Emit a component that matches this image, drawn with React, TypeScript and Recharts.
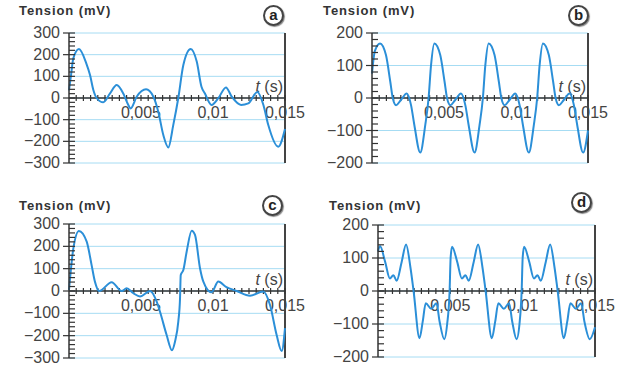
import { LineChart, Line, XAxis, YAxis, ReferenceLine } from "recharts";

// time in ms, tension in mV
const timeA = [0, 0.15, 0.3, 0.69, 1.2, 1.46, 1.69, 1.92, 2.38, 2.85, 3.31, 3.77, 4.12, 4.28, 4.7, 5.35, 5.86, 6.2, 6.55, 6.9, 7.24, 7.59, 7.94, 8.45, 8.87, 9.2, 9.44, 9.9, 10.37, 10.9, 11.3, 11.95, 12.45, 13.08, 13.5, 13.84, 14.53, 15];
const tensionA = [35, 110, 183, 226, 160, 106, 37, 0, -20, 21, 60, 21, -32, -48, 6, 40, 6, -63, -171, -228, -125, 0, 152, 226, 168, 52, 21, -32, -1, 49, 6, -32, -25, 28, -32, -125, -225, -143];

const timeB = [0, 0.2, 0.56, 0.97, 1.27, 1.44, 1.67, 2.01, 2.41, 2.71, 2.94, 3.35, 3.7, 3.93, 4.1, 4.33, 4.74, 5.04, 5.21, 5.44, 5.78, 6.18, 6.48, 6.71, 7.12, 7.47, 7.7, 7.87, 8.1, 8.51, 8.81, 8.98, 9.21, 9.55, 9.95, 10.25, 10.48, 10.89, 11.24, 11.47, 11.64, 11.87, 12.28, 12.58, 12.75, 12.98, 13.32, 13.72, 14.02, 14.25, 14.66, 15];
const tensionB = [75, 145, 168, 132, 50, 0, -22, -6, 14, -22, -83, -168, -83, 0, 101, 168, 132, 50, 0, -22, -6, 14, -22, -83, -168, -83, 0, 101, 168, 132, 50, 0, -22, -6, 14, -22, -83, -168, -83, 0, 101, 168, 132, 50, 0, -22, -6, 14, -22, -83, -168, -100];

const timeC = [0, 0.3, 0.69, 1.23, 1.57, 1.8, 2.1, 2.96, 3.66, 4.0, 4.47, 4.93, 5.63, 6.09, 6.32, 6.78, 7.15, 7.36, 7.59, 7.71, 7.76, 7.94, 8.17, 8.52, 8.75, 9.1, 9.33, 9.9, 10.37, 10.9, 11.65, 12.57, 13.49, 13.96, 14.42, 14.77, 15];
const tensionC = [5, 190, 269, 221, 116, 42, 0, 39, 0, 12, -10, -25, 0, -48, -93, -197, -265, -227, -137, -33, 72, 94, 176, 270, 251, 101, 42, -6, 42, 19, 0, -21, -2, -63, -197, -269, -166];

const timeD = [0, 0.14, 0.49, 0.82, 1.06, 1.29, 1.64, 1.94, 2.24, 2.46, 2.87, 3.09, 3.3, 3.68, 4.04, 4.26, 4.58, 4.78, 4.95, 5.02, 5.12, 5.47, 5.8, 6.04, 6.27, 6.62, 6.92, 7.22, 7.44, 7.87, 8.1, 8.32, 8.7, 9.06, 9.28, 9.58, 9.78, 9.93, 10.0, 10.1, 10.45, 10.78, 11.02, 11.25, 11.6, 11.9, 12.2, 12.42, 12.85, 13.08, 13.3, 13.68, 14.04, 14.27, 14.64, 15];
const tensionD = [120, 136, 89, 38, 48, 31, 89, 141, 72, 0, -143, -93, -37, -54, -37, -93, -146, -100, 0, 100, 134, 89, 38, 48, 31, 89, 141, 72, 0, -143, -93, -37, -54, -37, -93, -146, -100, 0, 100, 134, 89, 38, 48, 31, 89, 141, 72, 0, -143, -93, -37, -54, -37, -93, -146, -110];

const majorsA = [-300, -200, -100, 0, 100, 200, 300];
const majorsB = [-200, -100, 0, 100, 200];
const timeLabels = [0.005, 0.01, 0.015];

const CURVE = "#2b8fd8";
const GRID = "#a6dcf3";
const INK = "#333";
const FONT = "'Liberation Sans', Arial, sans-serif";

const fmtTension = (v: number) => (v < 0 ? `\u2212${-v}` : `${v}`);
const fmtTime = (v: number) => String(v).replace(".", ",");

const YTick = (props: any) => {
  const { x, y, payload } = props;
  const v = payload.value as number;
  const major = v % 100 === 0;
  return (
    <g>
      <line x1={major ? x - 6 : x} x2={x + 6} y1={y} y2={y} stroke={INK} strokeWidth={1.2} />
      {major && (
        <text x={x - 9} y={y} dy={5} textAnchor="end" fontSize={16} fontFamily={FONT} fill="#444">
          {fmtTension(v)}
        </text>
      )}
    </g>
  );
};

const ZeroAxis = (props: any) => {
  const { x1, x2, y1 } = props;
  const span = x2 - x1;
  const marks = [];
  for (let k = 1; k <= 30; k++) {
    const x = x1 + (span * k) / 30;
    marks.push(<line key={k} x1={x} x2={x} y1={y1 - 3} y2={y1 + 3} stroke={INK} strokeWidth={1.2} />);
  }
  return (
    <g>
      <line x1={x1} x2={x2} y1={y1} y2={y1} stroke={INK} strokeWidth={1.5} />
      {marks}
      {timeLabels.map((v) => (
        <text key={v} x={x1 + (span * v) / 0.015} y={y1 + 20} textAnchor="middle" fontSize={16} fontFamily={FONT} fill="#444">
          {fmtTime(v)}
        </text>
      ))}
      <text x={x2 - 2} y={y1 - 6} textAnchor="end" fontSize={16} fontFamily={FONT} fill="#444">
        <tspan fontStyle="italic">t</tspan> (s)
      </text>
    </g>
  );
};

interface PanelProps {
  times: number[];
  values: number[];
  majors: number[];
  letter: string;
  left: number;
  top: number;
  width: number;
  height: number;
  margin: { top: number; right: number; bottom: number; left: number };
  titleX: number;
  titleY: number;
  circleX: number;
  circleY: number;
}

function Panel(p: PanelProps) {
  const data = p.times.map((ms, i) => ({ t: ms / 1000, v: p.values[i] }));
  const max = p.majors[p.majors.length - 1];
  const yTicks: number[] = [];
  for (let v = -max; v <= max; v += 20) yTicks.push(v);

  return (
    <>
      <div style={{ position: "absolute", left: p.left, top: p.top }}>
        <LineChart width={p.width} height={p.height} data={data} margin={p.margin}>
          <XAxis dataKey="t" type="number" domain={[0, 0.015]} hide />
          <YAxis
            type="number"
            domain={[-max, max]}
            ticks={yTicks}
            interval={0}
            width={69}
            tickSize={0}
            tickMargin={0}
            tickLine={false}
            tick={<YTick />}
            axisLine={{ stroke: INK, strokeWidth: 1.5 }}
          />
          {p.majors.map((m) => (
            <ReferenceLine key={m} y={m} stroke={GRID} strokeWidth={1} />
          ))}
          <ReferenceLine x={0.015} stroke="#444" strokeWidth={2} />
          <ReferenceLine y={0} shape={ZeroAxis} />
          <Line type="monotone" dataKey="v" stroke={CURVE} strokeWidth={2} dot={false} isAnimationActive={false} />
        </LineChart>
      </div>
      <div
        style={{
          position: "absolute",
          left: p.titleX,
          top: p.titleY,
          fontFamily: FONT,
          fontSize: 13,
          fontWeight: 700,
          letterSpacing: 0.9,
          color: "#333",
          lineHeight: "14px",
        }}
      >
        Tension (mV)
      </div>
      <div
        style={{
          position: "absolute",
          left: p.circleX - 10,
          top: p.circleY - 10,
          width: 17,
          height: 17,
          borderRadius: "50%",
          border: "2px solid #444",
          boxShadow: "1px 1px 1px #888",
          background: "#fff",
          fontFamily: FONT,
          fontSize: 15,
          fontWeight: 700,
          color: "#222",
          lineHeight: "16px",
          textAlign: "center",
        }}
      >
        {p.letter}
      </div>
    </>
  );
}

export default function App() {
  return (
    <div style={{ position: "absolute", left: 0, top: 0, width: 618, height: 369, background: "#fff", overflow: "hidden" }}>
      <Panel times={timeA} values={tensionA} majors={majorsA} letter="a" left={0} top={0} width={315} height={175}
        margin={{ top: 33, right: 30, bottom: 12, left: 0 }} titleX={19} titleY={4} circleX={273} circleY={15} />
      <Panel times={timeB} values={tensionB} majors={majorsB} letter="b" left={303} top={0} width={315} height={175}
        margin={{ top: 33, right: 30, bottom: 12, left: 0 }} titleX={323} titleY={4} circleX={578} circleY={15} />
      <Panel times={timeC} values={tensionC} majors={majorsA} letter="c" left={0} top={190} width={315} height={180}
        margin={{ top: 34, right: 30, bottom: 12, left: 0 }} titleX={19} titleY={199} circleX={272} circleY={205} />
      <Panel times={timeD} values={tensionD} majors={majorsB} letter="d" left={309} top={190} width={309} height={180}
        margin={{ top: 35, right: 23, bottom: 13, left: 0 }} titleX={329} titleY={199} circleX={581} circleY={202} />
    </div>
  );
}
